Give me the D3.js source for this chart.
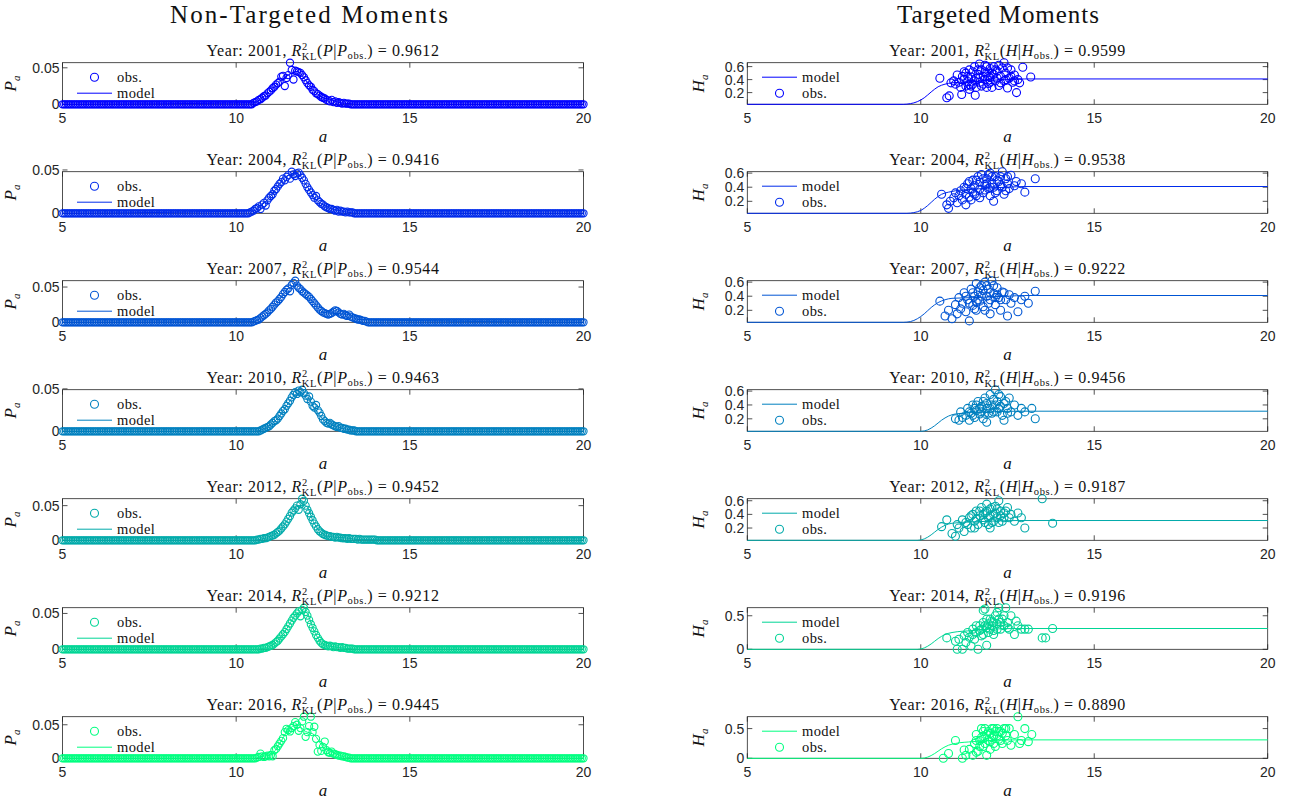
<!DOCTYPE html>
<html><head><meta charset="utf-8">
<script src="https://cdn.jsdelivr.net/npm/d3@7"></script>
<style>body{margin:0;background:#fff}</style></head><body>
<svg id="c" width="1293" height="801"></svg>
<script>
// ---------------- DATA ----------------
const years = [2001, 2004, 2007, 2010, 2012, 2014, 2016];
const colors = ["#0000ff", "#002beb", "#0055d4", "#0080bf", "#00aaaa", "#00d595", "#00ff80"];
const r2P = ["0.9612", "0.9416", "0.9544", "0.9463", "0.9452", "0.9212", "0.9445"];
const r2H = ["0.9599", "0.9538", "0.9222", "0.9456", "0.9187", "0.9196", "0.8890"];
const xTicks = [5, 10, 15, 20];
const pTicks = [0, 0.05];
const hTicks = [[0.2, 0.4, 0.6], [0.2, 0.4, 0.6], [0.2, 0.4, 0.6], [0.2, 0.4, 0.6], [0.2, 0.4, 0.6], [0, 0.5], [0, 0.5]];

// age grid of the P distributions (a from 5 to 20, step 0.05); P is 0 outside the listed support
const gridStart = 5, gridEnd = 20, gridStep = 0.05;
const pStart = [10.5, 10.4, 10.5, 10.7, 10.6, 10.7, 10.6];
const pObs2001 = [.002,.003,.004,.006,.007,.009,.011,.012,.015,.017,.019,.022,.024,.027,.029,.031,.038,.039,.025,.036,.040,.057,.047,.034,.046,.045,.044,.043,.040,.037,.033,.029,.026,.024,.020,.018,.015,.014,.012,.010,.009,.008,.006,.005,.004,.006,.003,.004,.002,.003,.002,.001,.002,.001,.001,.001];
const pObs2004 = [.001,.002,.003,.005,.006,.008,.005,.010,.012,.009,.015,.018,.020,.022,.026,.028,.031,.034,.036,.040,.038,.042,.044,.040,.048,.045,.043,.046,.047,.044,.041,.038,.034,.030,.027,.024,.021,.018,.020,.015,.013,.011,.010,.008,.007,.006,.005,.005,.004,.003,.004,.002,.003,.002,.002,.001,.002,.001,.001,.001];
const pObs2007 = [.001,.002,.003,.004,.006,.008,.010,.012,.014,.017,.019,.022,.025,.028,.030,.033,.036,.040,.043,.046,.048,.044,.053,.056,.059,.052,.049,.047,.044,.042,.040,.038,.036,.033,.030,.027,.024,.021,.018,.016,.014,.013,.012,.011,.012,.013,.015,.017,.016,.014,.012,.011,.012,.010,.009,.011,.008,.007,.006,.005,.004,.004,.003,.002,.002,.001];
const pObs2010 = [.001,.002,.003,.004,.005,.006,.008,.010,.012,.013,.015,.018,.021,.024,.026,.030,.033,.036,.040,.043,.046,.044,.048,.046,.049,.045,.042,.038,.041,.035,.030,.028,.031,.025,.022,.018,.014,.012,.010,.009,.010,.008,.007,.006,.005,.006,.004,.004,.003,.003,.002,.002,.001,.001,.001];
const pObs2012 = [.001,.001,.002,.002,.003,.003,.004,.005,.006,.007,.008,.010,.012,.014,.017,.020,.023,.027,.031,.035,.040,.043,.046,.050,.044,.052,.060,.057,.050,.044,.039,.034,.029,.024,.020,.016,.013,.011,.009,.008,.007,.006,.006,.005,.005,.004,.005,.004,.004,.003,.003,.003,.002,.003,.002,.002,.002,.002,.001,.002,.001,.001,.001,.001,.001,.001,.001,.001,.001];
const pObs2014 = [.001,.001,.002,.002,.003,.004,.005,.006,.008,.010,.012,.015,.018,.021,.024,.028,.032,.036,.040,.044,.047,.050,.053,.046,.055,.058,.052,.047,.041,.035,.030,.025,.020,.016,.012,.009,.007,.006,.005,.004,.005,.004,.003,.004,.003,.003,.002,.003,.002,.002,.001,.001,.001,.001];
const pObs2016 = [.001,.002,.007,.003,.002,.003,.004,.003,.005,.003,.012,.014,.018,.022,.026,.030,.039,.044,.042,.040,.045,.048,.054,.050,.041,.045,.055,.062,.032,.039,.048,.062,.039,.047,.029,.010,.020,.011,.017,.025,.012,.009,.008,.010,.007,.006,.005,.004,.004,.003,.003,.002,.001,.001];
const pObsAll = [pObs2001, pObs2004, pObs2007, pObs2010, pObs2012, pObs2014, pObs2016];

// model P on a 0.25 grid starting at a = 10.5
const pModelStart = 10.5, pModelStep = 0.25;
const pMod2001 = [.002,.009,.019,.031,.040,.045,.033,.018,.009,.006,.002,.001,.000];
const pMod2004 = [.003,.010,.020,.034,.044,.046,.034,.018,.010,.005,.003,.001,.000];
const pMod2007 = [.001,.008,.019,.033,.048,.052,.040,.027,.014,.013,.012,.011,.004];
const pMod2010 = [.000,.002,.008,.018,.033,.044,.042,.028,.014,.008,.004,.002,.000];
const pMod2012 = [.000,.002,.006,.014,.031,.050,.050,.024,.009,.005,.004,.003,.001];
const pMod2014 = [.000,.001,.005,.015,.032,.050,.052,.025,.007,.004,.002,.001,.000];
const pMod2016 = [.000,.003,.005,.022,.042,.050,.040,.035,.017,.010,.004,.001,.000];
const pModAll = [pMod2001, pMod2004, pMod2007, pMod2010, pMod2012, pMod2014, pMod2016];

// observed H: [a, H]
const hObs2001 = [[10.55,.42],[10.75,.12],[10.82,.15],[10.87,.35],[10.95,.38],[11.0,.33],[11.05,.47],[11.1,.36],[11.15,.28],[11.18,.17],[11.2,.45],[11.25,.40],[11.3,.50],[11.3,.30],[11.35,.37],[11.4,.55],[11.4,.25],[11.45,.44],[11.5,.33],[11.5,.52],[11.55,.60],[11.57,.16],[11.6,.42],[11.6,.28],[11.65,.48],[11.69,.64],[11.7,.36],[11.75,.55],[11.75,.30],[11.8,.45],[11.85,.62],[11.85,.40],[11.9,.50],[11.95,.34],[12.0,.57],[12.0,.43],[12.05,.28],[12.1,.48],[12.1,.60],[12.15,.38],[12.2,.53],[12.25,.31],[12.3,.45],[12.35,.58],[12.4,.66],[12.4,.38],[12.45,.50],[12.5,.27],[12.55,.42],[12.6,.55],[12.65,.36],[12.7,.47],[12.76,.20],[12.8,.40],[12.85,.35],[12.94,.59],[13.17,.44],
  [11.25,.52],[11.35,.45],[11.45,.30],[11.55,.38],[11.65,.55],[11.7,.42],[11.8,.33],[11.85,.52],[11.9,.60],[11.95,.45],[12.05,.50],[12.15,.55],[12.2,.42],[12.25,.62],[12.3,.35],[12.45,.40],[12.5,.58],[12.6,.45],[12.7,.38],[11.9,.28],[11.4,.32],[12.0,.36]];
const hObs2004 = [[10.6,.30],[10.75,.15],[10.8,.10],[10.85,.20],[10.95,.25],[11.0,.32],[11.05,.18],[11.1,.28],[11.15,.35],[11.2,.22],[11.25,.40],[11.3,.30],[11.3,.15],[11.35,.45],[11.4,.26],[11.45,.38],[11.5,.50],[11.5,.33],[11.55,.42],[11.6,.28],[11.65,.55],[11.7,.37],[11.7,.47],[11.75,.58],[11.8,.32],[11.85,.44],[11.9,.52],[11.95,.38],[12.0,.60],[12.0,.28],[12.05,.46],[12.1,.40],[12.1,.20],[12.15,.55],[12.2,.35],[12.25,.48],[12.3,.42],[12.35,.62],[12.4,.30],[12.45,.52],[12.5,.45],[12.55,.38],[12.6,.57],[12.7,.42],[12.75,.48],[12.9,.45],[13.0,.33],[13.3,.52],
  [11.3,.38],[11.4,.48],[11.55,.30],[11.6,.50],[11.7,.25],[11.8,.52],[11.85,.36],[11.9,.45],[12.0,.40],[12.05,.55],[12.15,.32],[12.2,.50],[12.3,.55],[12.35,.40],[12.45,.35],[12.5,.55],[11.95,.58],[11.45,.22]];
const hObs2007 = [[10.55,.33],[10.7,.12],[10.8,.20],[10.9,.08],[11.0,.28],[11.05,.15],[11.1,.38],[11.15,.22],[11.2,.30],[11.25,.45],[11.3,.18],[11.35,.35],[11.4,.05],[11.45,.50],[11.5,.27],[11.55,.40],[11.6,.58],[11.6,.20],[11.65,.46],[11.7,.33],[11.75,.55],[11.8,.25],[11.85,.60],[11.9,.40],[11.95,.50],[12.0,.35],[12.0,.15],[12.05,.62],[12.1,.44],[12.15,.28],[12.2,.52],[12.25,.38],[12.3,.20],[12.35,.46],[12.45,.35],[12.5,.12],[12.55,.42],[12.6,.30],[12.7,.38],[12.8,.18],[12.9,.35],[13.0,.40],[13.1,.30],[13.3,.47],
  [11.3,.40],[11.4,.30],[11.5,.45],[11.55,.22],[11.65,.35],[11.7,.52],[11.75,.40],[11.8,.48],[11.9,.55],[11.95,.30],[12.0,.45],[12.1,.55],[12.15,.38],[12.2,.42],[12.3,.35],[12.4,.45],[11.85,.20],[11.6,.32]];
const hObs2010 = [[11.0,.20],[11.1,.18],[11.15,.30],[11.2,.22],[11.3,.25],[11.35,.35],[11.4,.18],[11.45,.28],[11.5,.40],[11.55,.22],[11.6,.32],[11.65,.45],[11.7,.27],[11.75,.38],[11.8,.20],[11.85,.50],[11.9,.35],[11.9,.15],[11.95,.28],[12.0,.55],[12.05,.40],[12.1,.30],[12.15,.62],[12.2,.45],[12.25,.35],[12.3,.52],[12.35,.25],[12.4,.42],[12.4,.18],[12.5,.35],[12.55,.50],[12.6,.30],[12.7,.40],[12.8,.25],[12.9,.35],[13.0,.30],[13.2,.35],[13.3,.20],
  [11.4,.30],[11.5,.25],[11.6,.40],[11.7,.35],[11.75,.30],[11.8,.45],[11.85,.28],[11.9,.42],[12.0,.35],[12.05,.28],[12.1,.48],[12.2,.30],[12.25,.55],[12.3,.38],[12.45,.45],[12.5,.28],[11.55,.35],[12.15,.40]];
const hObs2012 = [[10.6,.22],[10.75,.32],[10.9,.12],[11.0,.08],[11.05,.25],[11.1,.20],[11.2,.32],[11.25,.15],[11.3,.28],[11.4,.35],[11.45,.20],[11.5,.40],[11.55,.30],[11.6,.45],[11.65,.25],[11.7,.38],[11.75,.50],[11.8,.32],[11.85,.42],[11.9,.55],[11.95,.35],[12.0,.48],[12.0,.20],[12.05,.28],[12.1,.40],[12.15,.52],[12.2,.35],[12.25,.60],[12.3,.45],[12.35,.30],[12.4,.42],[12.5,.50],[12.55,.35],[12.6,.40],[12.7,.30],[12.8,.42],[12.9,.35],[13.0,.20],[13.5,.63],[13.8,.27],
  [11.35,.25],[11.45,.38],[11.55,.20],[11.6,.33],[11.7,.45],[11.8,.40],[11.85,.28],[11.9,.45],[12.0,.38],[12.05,.50],[12.1,.30],[12.15,.42],[12.2,.48],[12.3,.38],[12.4,.35],[12.45,.45],[11.95,.25],[12.25,.28]];
const hObs2014 = [[10.75,.17],[11.0,.12],[11.05,0],[11.1,.15],[11.2,0],[11.25,.20],[11.3,.10],[11.35,.25],[11.4,.18],[11.45,.05],[11.5,.30],[11.55,.15],[11.6,.35],[11.65,0],[11.7,.28],[11.75,.20],[11.8,.40],[11.85,.60],[11.9,.32],[11.9,.06],[11.95,.25],[12.0,.45],[12.05,.35],[12.1,.28],[12.1,.22],[12.15,.50],[12.2,.38],[12.25,.62],[12.3,.30],[12.35,.45],[12.4,.35],[12.45,.62],[12.5,.40],[12.55,.30],[12.6,.50],[12.7,.22],[12.75,.42],[12.8,.35],[12.9,.30],[13.0,.30],[13.1,.30],[13.5,.17],[13.6,.17],[13.8,.31],
  [11.5,.22],[11.6,.25],[11.7,.35],[11.75,.30],[11.8,.22],[11.85,.35],[11.9,.45],[11.95,.38],[12.0,.30],[12.05,.42],[12.1,.40],[12.2,.30],[12.25,.45],[12.3,.40],[12.4,.50],[12.5,.32],[11.8,.58],[12.2,.55]];
const hObs2016 = [[10.65,0],[10.8,.08],[11.0,.30],[11.2,0],[11.25,.14],[11.3,.05],[11.4,.15],[11.5,.05],[11.55,.25],[11.6,.40],[11.6,.10],[11.65,.12],[11.7,.30],[11.75,.50],[11.8,.20],[11.85,.35],[11.9,.05],[11.95,.45],[12.0,.28],[12.0,.15],[12.05,.50],[12.1,.38],[12.15,.20],[12.2,.50],[12.25,.32],[12.3,.45],[12.35,.25],[12.4,.50],[12.45,.38],[12.5,.30],[12.55,.50],[12.6,.22],[12.7,.40],[12.8,.70],[12.85,.25],[12.9,.30],[13.0,.50],[13.1,.28],[13.2,.40],
  [11.6,.30],[11.7,.20],[11.75,.35],[11.8,.45],[11.85,.25],[11.9,.40],[11.95,.30],[12.0,.42],[12.05,.35],[12.1,.25],[12.15,.45],[12.2,.38],[12.25,.45],[12.3,.30],[12.35,.42],[12.45,.50],[11.85,.50],[12.1,.50]];
const hObsAll = [hObs2001, hObs2004, hObs2007, hObs2010, hObs2012, hObs2014, hObs2016];

// model H: [a, H]
const hMod2001 = [[5,.02],[9.5,.02],[9.7,.03],[9.9,.06],[10.1,.12],[10.3,.21],[10.5,.29],[10.7,.33],[10.9,.35],[11.5,.37],[12.0,.39],[12.5,.40],[13.0,.41],[20,.41]];
const hMod2004 = [[5,.03],[9.6,.03],[9.8,.04],[10.0,.07],[10.2,.14],[10.4,.23],[10.6,.30],[10.8,.33],[11.0,.35],[11.5,.37],[12.0,.39],[12.5,.40],[13.0,.41],[20,.41]];
const hMod2007 = [[5,.03],[9.5,.03],[9.7,.04],[9.9,.08],[10.1,.15],[10.3,.24],[10.5,.31],[10.7,.35],[10.9,.37],[11.5,.38],[12.0,.39],[12.5,.40],[13.0,.41],[20,.41]];
const hMod2010 = [[5,.02],[10.0,.02],[10.2,.04],[10.4,.10],[10.6,.18],[10.8,.24],[11.0,.27],[11.5,.29],[12.0,.30],[12.8,.31],[20,.31]];
const hMod2012 = [[5,.02],[9.9,.02],[10.1,.04],[10.3,.10],[10.5,.18],[10.7,.24],[10.9,.27],[11.5,.29],[12.0,.30],[12.8,.31],[20,.31]];
const hMod2014 = [[5,0],[9.9,0],[10.1,.02],[10.3,.08],[10.5,.16],[10.7,.22],[10.9,.25],[11.5,.28],[12.0,.30],[12.8,.31],[20,.31]];
const hMod2016 = [[5,0],[10.0,0],[10.2,.02],[10.4,.08],[10.6,.16],[10.8,.22],[11.0,.25],[11.5,.28],[12.0,.30],[12.8,.31],[20,.31]];
const hModAll = [hMod2001, hMod2004, hMod2007, hMod2010, hMod2012, hMod2014, hMod2016];

// ---------------- LAYOUT ----------------
const svg = d3.select("#c");
const serif = "'Liberation Serif','Times New Roman',serif";
const sans = "'Liberation Sans',Arial,sans-serif";
const axCol = "#262626";
const L = {x0: 62.5, x1: 583.5}, R = {x0: 747.3, x1: 1267.7};
const top0 = 62.7, ph = 41.6, pstep = 109;

[["Non-Targeted Moments", 309, 278], ["Targeted Moments", 998, 202]].forEach(([t, cx, w]) => {
  svg.append("text").attr("x", cx).attr("y", 23).attr("text-anchor", "middle")
    .attr("textLength", w).attr("lengthAdjust", "spacing")
    .style("font-family", serif).style("font-size", "25px").attr("fill", "#111").text(t);
});

function panelTitle(cx, y, year, sym, val) {
  const t = svg.append("text").attr("x", cx).attr("y", y).attr("text-anchor", "middle")
    .style("font-family", serif).style("font-size", "16px").style("letter-spacing", "0.6px").attr("fill", "#111");
  t.append("tspan").text(`Year: ${year}, `);
  t.append("tspan").style("font-style", "italic").text("R");
  t.append("tspan").attr("dy", -6).style("font-size", "10.5px").text("2");
  t.append("tspan").attr("dx", -6).attr("dy", 10).style("font-size", "10.5px").text("KL");
  t.append("tspan").attr("dy", -4).text("(");
  t.append("tspan").style("font-style", "italic").text(sym);
  t.append("tspan").text("|");
  t.append("tspan").style("font-style", "italic").text(sym);
  t.append("tspan").attr("dy", 3).style("font-size", "10.5px").text("obs.");
  t.append("tspan").attr("dy", -3).text(`) = ${val}`);
}

function drawAxes(g, x, y, yTicks, yFmt) {
  const [bx0, bx1] = x.range(), [by1, by0] = y.range();
  g.append("rect").attr("x", bx0).attr("y", by0).attr("width", bx1 - bx0).attr("height", by1 - by0)
    .attr("fill", "none").attr("stroke", axCol).attr("stroke-width", 0.8);
  const tl = 5;
  xTicks.forEach(v => {
    const px = x(v);
    g.append("line").attr("x1", px).attr("x2", px).attr("y1", by1).attr("y2", by1 - tl).attr("stroke", axCol).attr("stroke-width", 0.8);
    g.append("line").attr("x1", px).attr("x2", px).attr("y1", by0).attr("y2", by0 + tl).attr("stroke", axCol).attr("stroke-width", 0.8);
    g.append("text").attr("x", px).attr("y", by1 + 19).attr("text-anchor", "middle")
      .style("font-family", sans).style("font-size", "14px").attr("fill", axCol).text(v);
  });
  yTicks.forEach(v => {
    const py = y(v);
    g.append("line").attr("x1", bx0).attr("x2", bx0 + tl).attr("y1", py).attr("y2", py).attr("stroke", axCol).attr("stroke-width", 0.8);
    g.append("line").attr("x1", bx1).attr("x2", bx1 - tl).attr("y1", py).attr("y2", py).attr("stroke", axCol).attr("stroke-width", 0.8);
    g.append("text").attr("x", bx0 - 3).attr("y", py + 5).attr("text-anchor", "end")
      .style("font-family", sans).style("font-size", "14px").attr("fill", axCol).text(yFmt(v));
  });
  g.append("text").attr("x", (bx0 + bx1) / 2).attr("y", by1 + 38).attr("text-anchor", "middle")
    .style("font-family", serif).style("font-style", "italic").style("font-size", "17px").attr("fill", "#111").text("a");
}

function yLabel(x, cy, sym) {
  const t = svg.append("text").attr("transform", `translate(${x},${cy}) rotate(-90)`).attr("text-anchor", "middle")
    .style("font-family", serif).style("font-size", "17px").attr("fill", "#111");
  t.append("tspan").style("font-style", "italic").text(sym);
  t.append("tspan").attr("dy", 4).style("font-style", "italic").style("font-size", "11px").text("a");
}

function legendText(g, x, y, s) {
  g.append("text").attr("x", x).attr("y", y).style("font-family", serif).style("font-size", "14.5px")
    .style("letter-spacing", "0.4px").attr("fill", "#111").text(s);
}

const grid = d3.range(gridStart, gridEnd + gridStep / 2, gridStep);

years.forEach((yr, i) => {
  const top = top0 + i * pstep, bot = top + ph;
  const col = colors[i];

  // ---- left: P ----
  const pArr = pObsAll[i];
  const s0 = Math.round((pStart[i] - gridStart) / gridStep);
  const pts = grid.map((a, k) => [a, (k >= s0 && k - s0 < pArr.length) ? pArr[k - s0] : 0]);
  const x = d3.scaleLinear().domain([gridStart, gridEnd]).range([L.x0, L.x1]);
  const y = d3.scaleLinear().domain([0, d3.max(pArr)]).range([bot, top]);
  const gL = svg.append("g");
  drawAxes(gL, x, y, pTicks, d => d === 0 ? "0" : d3.format(".2f")(d));
  const mod = [[gridStart, 0]].concat(pModAll[i].map((v, k) => [pModelStart + k * pModelStep, v]), [[gridEnd, 0]]);
  gL.append("path").datum(mod).attr("fill", "none").attr("stroke", col).attr("stroke-width", 1)
    .attr("d", d3.line().x(d => x(d[0])).y(d => y(d[1])).curve(d3.curveMonotoneX));
  gL.selectAll("circle.o").data(pts).join("circle").attr("cx", d => x(d[0])).attr("cy", d => y(d[1]))
    .attr("r", 3.6).attr("fill", "none").attr("stroke", col).attr("stroke-width", 1.1);
  // legend
  gL.append("circle").attr("cx", 94.5).attr("cy", top + 14.5).attr("r", 4).attr("fill", "none").attr("stroke", col).attr("stroke-width", 1.1);
  legendText(gL, 117, top + 19.5, "obs.");
  gL.append("line").attr("x1", 77).attr("x2", 112).attr("y1", top + 30.5).attr("y2", top + 30.5).attr("stroke", col).attr("stroke-width", 1);
  legendText(gL, 117, top + 35.5, "model");
  panelTitle((L.x0 + L.x1) / 2, top - 7, yr, "P", r2P[i]);
  yLabel(16, top + ph / 2, "P");

  // ---- right: H ----
  const hArr = hObsAll[i], hm = hModAll[i];
  const allH = hArr.map(d => d[1]).concat(hm.map(d => d[1]));
  const xr = d3.scaleLinear().domain([gridStart, gridEnd]).range([R.x0, R.x1]);
  const yr2 = d3.scaleLinear().domain(d3.extent(allH)).range([bot, top]);
  const gR = svg.append("g");
  drawAxes(gR, xr, yr2, hTicks[i], d => d === 0 ? "0" : d3.format(".1f")(d));
  gR.append("path").datum(hm).attr("fill", "none").attr("stroke", col).attr("stroke-width", 1)
    .attr("d", d3.line().x(d => xr(d[0])).y(d => yr2(d[1])).curve(d3.curveMonotoneX));
  gR.selectAll("circle.o").data(hArr).join("circle").attr("cx", d => xr(d[0])).attr("cy", d => yr2(d[1]))
    .attr("r", 4).attr("fill", "none").attr("stroke", col).attr("stroke-width", 1.1);
  gR.append("line").attr("x1", 762).attr("x2", 797).attr("y1", top + 14.5).attr("y2", top + 14.5).attr("stroke", col).attr("stroke-width", 1);
  legendText(gR, 802, top + 19.5, "model");
  gR.append("circle").attr("cx", 779.5).attr("cy", top + 30.5).attr("r", 4).attr("fill", "none").attr("stroke", col).attr("stroke-width", 1.1);
  legendText(gR, 802, top + 35.5, "obs.");
  panelTitle((R.x0 + R.x1) / 2, top - 7, yr, "H", r2H[i]);
  yLabel(704, top + ph / 2, "H");
});
</script>
</body></html>
